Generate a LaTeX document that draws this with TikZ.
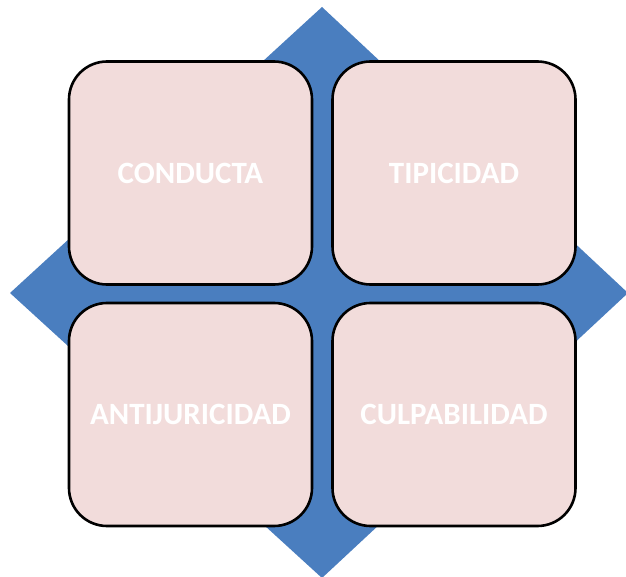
\documentclass[tikz,border=0pt]{standalone}
\usepackage{fontspec}
\setmainfont{Carlito}
\definecolor{diablue}{HTML}{4A7EBF}
\definecolor{boxpink}{HTML}{F2DCDB}
\tikzset{
  quad/.style={draw=black, line width=2.6pt, fill=boxpink, rounded corners=38pt,
    minimum width=243pt, minimum height=223pt, inner sep=0pt,
    text=white, font=\fontsize{31}{36}\selectfont\bfseries}
}
\begin{document}
\begin{tikzpicture}[x=1pt,y=-1pt]
\useasboundingbox (0,0) rectangle (626,577);
\fill[diablue] (322,7) coordinate (dtop) -- (628,293) coordinate (dright) -- (322,578) coordinate (dbottom) -- (10,293) coordinate (dleft) -- cycle;
\node[quad] (conducta) at (190.5,173) {CONDUCTA};
\node[quad] (tipicidad) at (454,173) {TIPICIDAD};
\node[quad] (antijuricidad) at (190.5,414.5) {ANTIJURICIDAD};
\node[quad] (culpabilidad) at (454,414.5) {CULPABILIDAD};
\end{tikzpicture}
\end{document}
